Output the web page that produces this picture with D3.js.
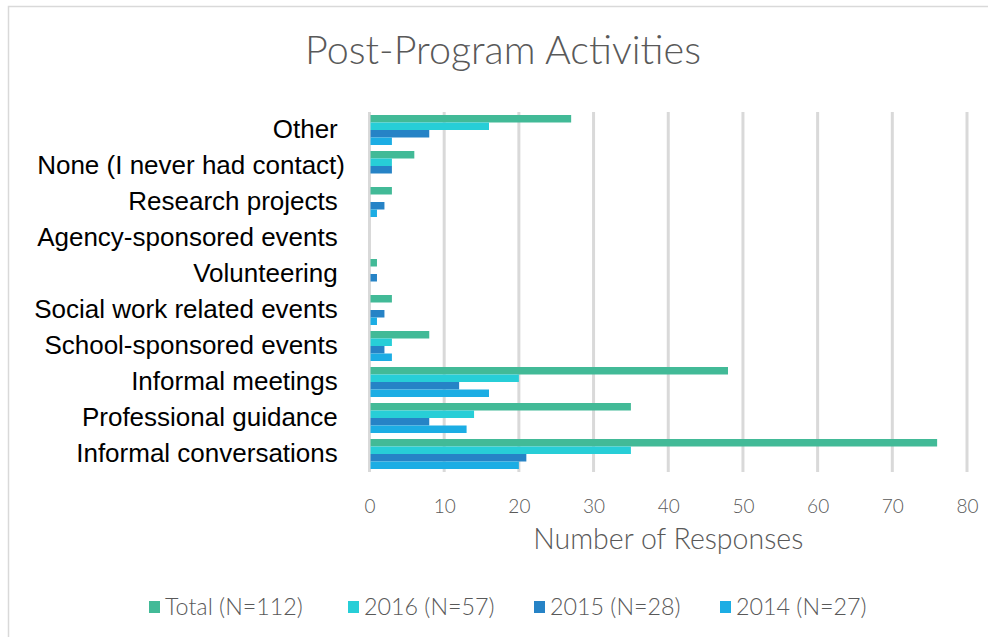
<!DOCTYPE html>
<html>
<head>
<meta charset="utf-8">
<script src="https://cdn.jsdelivr.net/npm/d3@7"></script>
<style>
  html, body { margin: 0; padding: 0; background: #fff; }
  svg { display: block; }
</style>
</head>
<body>
<svg id="chart" width="988" height="637"></svg>
<script>
// ---- data ----
const categories = [
  "Other ",
  "None (I never had contact)",
  "Research projects ",
  "Agency-sponsored events ",
  "Volunteering ",
  "Social work related events ",
  "School-sponsored events ",
  "Informal meetings ",
  "Professional guidance ",
  "Informal conversations "
];
const seriesNames = ["Total (N=112)", "2016 (N=57)", "2015 (N=28)", "2014 (N=27)"];
const totalValues = [27, 6, 3, 0, 1, 3, 8, 48, 35, 76];
const values2016  = [16, 3, 0, 0, 0, 0, 3, 20, 14, 35];
const values2015  = [8, 3, 2, 0, 1, 2, 2, 12, 8, 21];
const values2014  = [3, 0, 1, 0, 0, 1, 3, 16, 13, 20];
const seriesColors = ["#42BA97", "#27CED7", "#2683C6", "#1CADE4"];
const xTicks = [0, 10, 20, 30, 40, 50, 60, 70, 80];
const chartTitle = "Post-Program Activities";
const xAxisTitle = "Number of Responses";

const seriesValues = [totalValues, values2016, values2015, values2014];

const svg = d3.select("#chart");
const lightFont = "Lato, 'Open Sans', sans-serif";

// chart border
svg.append("path")
  .attr("d", "M8.5,640 V6.5 H992")
  .attr("fill", "none").attr("stroke", "#d9d9d9").attr("stroke-width", 1.5);

// title
svg.append("text")
  .attr("x", 503).attr("y", 64)
  .attr("text-anchor", "middle")
  .attr("font-family", lightFont).attr("font-weight", 300)
  .attr("font-size", 39.5).attr("fill", "#595959")
  .text(chartTitle);

const plot = { left: 369.5, right: 967, top: 112, bottom: 472 };

const x = d3.scaleLinear().domain([0, 80]).range([plot.left, plot.right]);
const y = d3.scaleBand().domain(categories).range([plot.top, plot.bottom])
  .paddingInner(1/6).paddingOuter(1/12);
const ySub = d3.scaleBand().domain(d3.range(seriesNames.length)).range([0, y.bandwidth()]);

// gridlines
svg.append("g").selectAll("line").data(xTicks).join("line")
  .attr("x1", d => x(d)).attr("x2", d => x(d))
  .attr("y1", plot.top).attr("y2", plot.bottom)
  .attr("stroke", "#d9d9d9").attr("stroke-width", 3);

// bars
const groups = svg.append("g").selectAll("g").data(categories).join("g")
  .attr("transform", d => `translate(0,${y(d)})`);
groups.selectAll("rect")
  .data((c, i) => seriesValues.map((vals, s) => ({ s, v: vals[i] })))
  .join("rect")
  .attr("x", x(0) + 1)
  .attr("y", d => ySub(d.s))
  .attr("width", d => Math.max(0, x(d.v) - x(0) - (d.v > 0 ? 1 : 0)))
  .attr("height", ySub.bandwidth())
  .attr("fill", d => seriesColors[d.s]);

// category labels (y axis)
const yAxis = d3.axisLeft(y).tickSize(0).tickPadding(0);
const yg = svg.append("g").attr("transform", `translate(345,0)`).call(yAxis);
yg.select(".domain").remove();
yg.selectAll("text")
  .attr("font-family", "'Liberation Sans', Arial, sans-serif")
  .attr("font-size", 26).attr("fill", "#000")
  .style("white-space", "pre");

// x axis ticks
const xAxis = d3.axisBottom(x).tickValues(xTicks).tickSize(0).tickPadding(0);
const xg = svg.append("g").attr("transform", `translate(0,499)`).call(xAxis);
xg.select(".domain").remove();
xg.selectAll("text")
  .attr("font-family", lightFont).attr("font-weight", 300)
  .attr("font-size", 19).attr("fill", "#595959");

// x axis title
svg.append("text")
  .attr("x", (plot.left + plot.right) / 2).attr("y", 549)
  .attr("text-anchor", "middle")
  .attr("font-family", lightFont).attr("font-weight", 300)
  .attr("font-size", 28.5).attr("fill", "#595959")
  .text(xAxisTitle);

// legend
const legendX = [149, 348, 534, 720];
const legend = svg.append("g").selectAll("g").data(seriesNames).join("g")
  .attr("transform", (d, i) => `translate(${legendX[i]},607)`);
legend.append("rect")
  .attr("x", 0).attr("y", -6).attr("width", 11).attr("height", 12)
  .attr("fill", (d, i) => seriesColors[i]);
legend.append("text")
  .attr("x", 16).attr("y", 0).attr("dy", "0.35em")
  .attr("font-family", lightFont).attr("font-weight", 300)
  .attr("font-size", 23.3).attr("fill", "#595959")
  .text(d => d);
</script>
</body>
</html>
